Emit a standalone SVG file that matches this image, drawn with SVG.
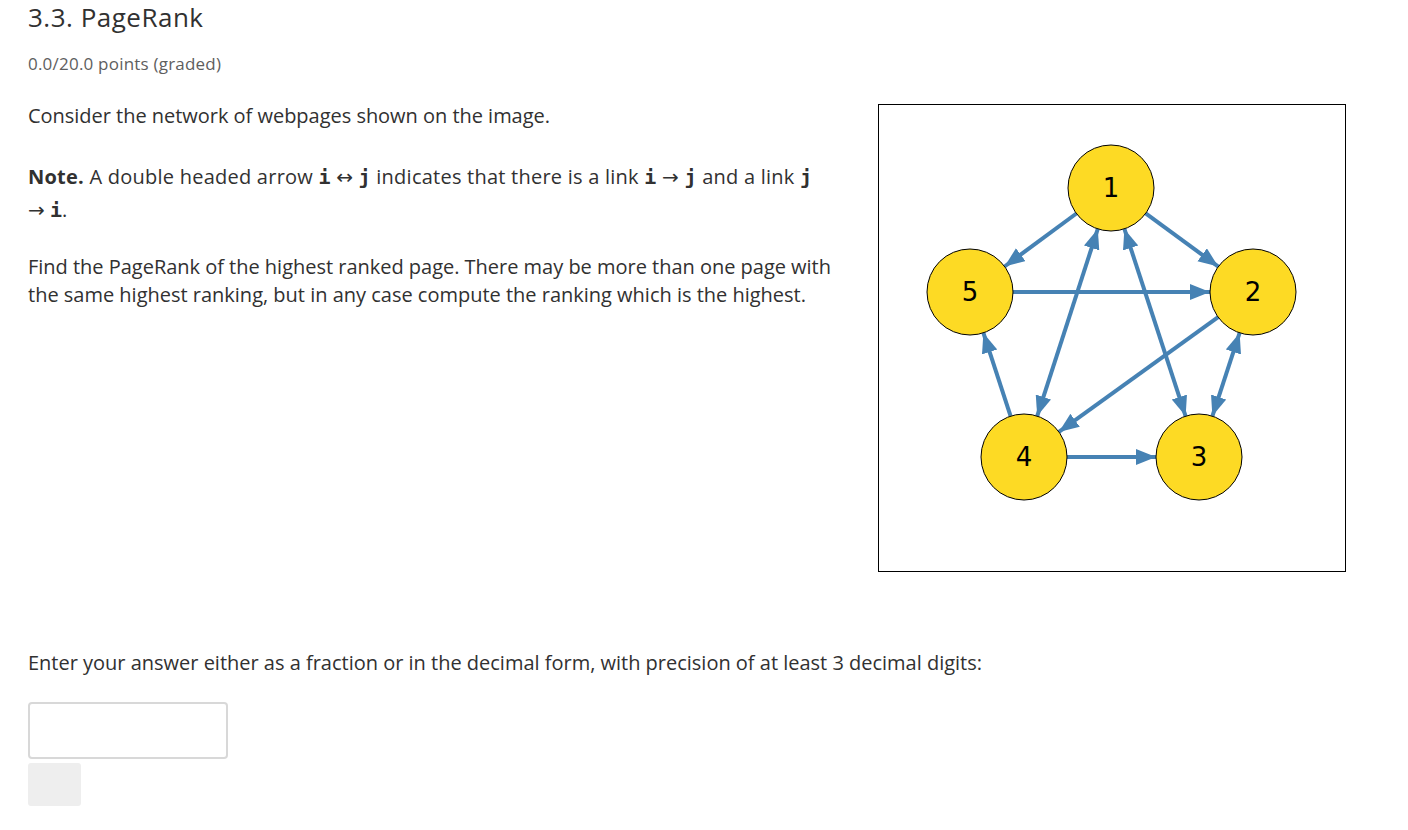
<svg xmlns="http://www.w3.org/2000/svg" width="1408" height="830" viewBox="0 0 1408 830">
<style>
text{font-family:"Open Sans","Noto Sans",sans-serif;fill:#313131}
.b{font-size:20px}
.m{font-family:"DejaVu Sans Mono","Liberation Mono",monospace;font-weight:bold}
.r{font-family:"DejaVu Sans",sans-serif}
.e{stroke:#4682b4;stroke-width:4;fill:none}
.n circle{fill:#fdda24;stroke:#000;stroke-width:1}
.n text{font-family:"DejaVu Sans",sans-serif;font-size:26px;fill:#000;text-anchor:middle}
</style>
<defs>
<marker id="a" markerUnits="userSpaceOnUse" markerWidth="22" markerHeight="18" refX="20" refY="8" orient="auto-start-reverse"><path d="M0,0 L20,8 L0,16 z" fill="#4682b4"/></marker>
</defs>
<rect width="1408" height="830" fill="#fff"/>
<text x="28" y="27" font-size="26" textLength="175">3.3. PageRank</text>
<text x="28" y="70" font-size="17" style="fill:#5e5e5e" textLength="193">0.0/20.0 points (graded)</text>
<text x="28" y="123" class="b" textLength="522">Consider the network of webpages shown on the image.</text>
<text x="28" y="184" class="b" textLength="784"><tspan font-weight="bold">Note.</tspan> A double headed arrow <tspan class="m">i</tspan> <tspan class="r">↔</tspan> <tspan class="m">j</tspan> indicates that there is a link <tspan class="m">i</tspan> <tspan class="r">→</tspan> <tspan class="m">j</tspan> and a link <tspan class="m">j</tspan></text>
<text x="28" y="217" class="b"><tspan class="r">→</tspan> <tspan class="m">i</tspan>.</text>
<text x="28" y="274" class="b" textLength="803">Find the PageRank of the highest ranked page. There may be more than one page with</text>
<text x="28" y="302" class="b" textLength="778">the same highest ranking, but in any case compute the ranking which is the highest.</text>
<text x="28" y="670" class="b" textLength="954">Enter your answer either as a fraction or in the decimal form, with precision of at least 3 decimal digits:</text>
<rect x="29" y="703" width="198" height="55" rx="3" fill="#fff" stroke="#d8d8d8" stroke-width="2"/>
<rect x="28" y="763" width="53" height="43" rx="3" fill="#eee"/>
<rect x="878.5" y="104.5" width="467" height="467" fill="#fff" stroke="#000" stroke-width="1"/>
<g id="edges">
<line class="e" x1="1076.4" y1="213.5" x2="1004.6" y2="266.5" marker-end="url(#a)"/>
<line class="e" x1="1145.7" y1="213.4" x2="1218.3" y2="266.6" marker-end="url(#a)"/>
<line class="e" x1="1013" y1="292" x2="1210" y2="292" marker-end="url(#a)"/>
<line class="e" x1="1097.8" y1="228.9" x2="1037.2" y2="416.1" marker-start="url(#a)" marker-end="url(#a)"/>
<line class="e" x1="1124.4" y1="228.9" x2="1185.6" y2="416.1" marker-start="url(#a)" marker-end="url(#a)"/>
<line class="e" x1="1218.1" y1="317.1" x2="1058.9" y2="431.9" marker-end="url(#a)"/>
<line class="e" x1="1239.6" y1="332.9" x2="1212.4" y2="416.1" marker-start="url(#a)" marker-end="url(#a)"/>
<line class="e" x1="1010.6" y1="416.1" x2="983.4" y2="332.9" marker-end="url(#a)"/>
<line class="e" x1="1067" y1="457" x2="1156" y2="457" marker-end="url(#a)"/>
</g>
<g id="n1" class="n"><circle cx="1111" cy="188" r="43"/><text x="1111" y="197">1</text></g>
<g id="n2" class="n"><circle cx="1253" cy="292" r="43"/><text x="1253" y="301">2</text></g>
<g id="n3" class="n"><circle cx="1199" cy="457" r="43"/><text x="1199" y="466">3</text></g>
<g id="n4" class="n"><circle cx="1024" cy="457" r="43"/><text x="1024" y="466">4</text></g>
<g id="n5" class="n"><circle cx="970" cy="292" r="43"/><text x="970" y="301">5</text></g>
</svg>
